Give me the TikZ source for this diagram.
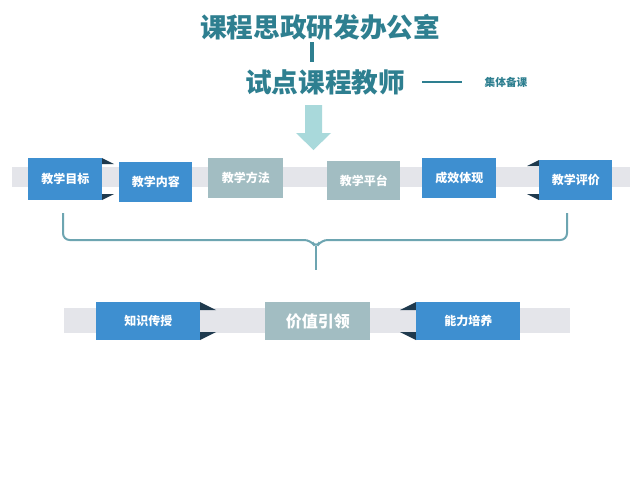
\documentclass[tikz,border=0pt]{standalone}
\usepackage{fontspec}
\newfontfamily\cjk{Noto Sans CJK SC}
\definecolor{teal1}{HTML}{2E7F90}
\definecolor{arrowc}{HTML}{A9D9DB}
\definecolor{band}{HTML}{E4E5EA}
\definecolor{blu}{HTML}{3E8FD0}
\definecolor{gry}{HTML}{A2BDC2}
\definecolor{dark}{HTML}{1F3A4E}
\tikzset{
  box/.style={fill=blu, text=white, font=\cjk\small\bfseries, inner sep=0pt, anchor=north west},
  gbox/.style={box, fill=gry},
  tri/.style={fill=dark, draw=none},
  head/.style={font=\cjk\fontsize{20}{24}\selectfont\bfseries, text=teal1},
}
\begin{document}
\begin{tikzpicture}[x=0.75pt,y=0.75pt,yscale=-1,xscale=1]
\fill[white] (0,0) rectangle (640,480);

% Titles
\node (office) at (320,27) [head] {课程思政研发办公室};
\node (teach) at (325,82) [head] {试点课程教师};
\node (group) at (506,82) [font=\cjk\footnotesize\bfseries, text=teal1] {集体备课};
\coordinate (tl) at (312,42);
\coordinate (tr) at (312,62);
\draw[teal1, line width=2.5pt] (tl) -- (tr);
\coordinate (g1) at (422,82);
\coordinate (g2) at (462,82);
\draw[teal1, line width=1.8pt] (g1) -- (g2);

% Down arrow
\fill[arrowc] (305,105) -- (322,105) -- (322,133) -- (331,133) -- (313.5,150) -- (296,133) -- (305,133) -- cycle;

% Top band
\fill[band] (12,167) rectangle (630,187);
\fill[tri] (102,158) -- (114,164) -- (102,164) -- cycle;
\fill[tri] (102,200) -- (114,194) -- (102,194) -- cycle;
\fill[tri] (539,160) -- (527,166) -- (539,166) -- cycle;
\fill[tri] (539,200) -- (527,194) -- (539,194) -- cycle;
\node (goal) at (28,158) [box, minimum width=55.5pt, minimum height=31.5pt] {教学目标};
\node (content) at (119,162) [box, minimum width=54.75pt, minimum height=30pt] {教学内容};
\node (method) at (208,158) [gbox, minimum width=56.25pt, minimum height=30pt] {教学方法};
\node (platform) at (327,161) [gbox, minimum width=54.75pt, minimum height=29.25pt] {教学平台};
\node (result) at (422,158) [box, minimum width=55.5pt, minimum height=30pt] {成效体现};
\node (eval) at (539,160) [box, minimum width=54.75pt, minimum height=30pt] {教学评价};

% Brace
\draw[teal1!70, line width=1.5pt, rounded corners=5pt]
  (63,213) -- (63,240) -- (311,240) -- (316,248) -- (321,240) -- (567,240) -- (567,213);
\draw[teal1!70, line width=1.5pt] (316,246) -- (316,270);

% Bottom band
\fill[band] (64,308) rectangle (570,333);
\fill[tri] (200,302) -- (216,310) -- (200,310) -- cycle;
\fill[tri] (200,340) -- (216,332) -- (200,332) -- cycle;
\fill[tri] (416,302) -- (400,310) -- (416,310) -- cycle;
\fill[tri] (416,340) -- (400,332) -- (416,332) -- cycle;
\node (know) at (96,302) [box, minimum width=78pt, minimum height=28.5pt] {知识传授};
\node (value) at (265,302) [gbox, minimum width=78.75pt, minimum height=28.5pt, font=\cjk\large\bfseries] {价值引领};
\node (ability) at (416,302) [box, minimum width=78pt, minimum height=28.5pt] {能力培养};
\end{tikzpicture}
\end{document}
